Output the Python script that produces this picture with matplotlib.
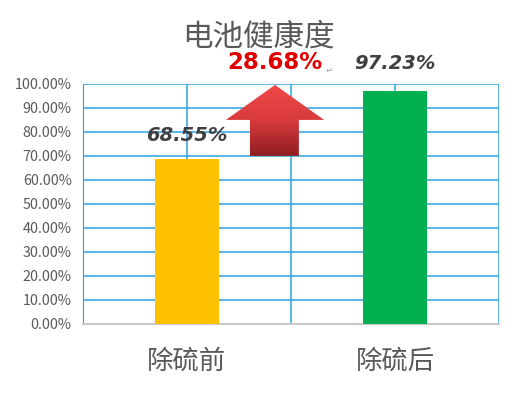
import numpy as np
import matplotlib
matplotlib.use("Agg")
import matplotlib.pyplot as plt
from matplotlib.patches import Polygon
from matplotlib.ticker import FuncFormatter
from matplotlib.colors import LinearSegmentedColormap

plt.rcParams['font.family'] = ['Noto Sans CJK SC', 'DejaVu Sans']

title = "电池健康度"
categories = ["除硫前", "除硫后"]
values = [68.55, 97.23]
bar_colors = ["#FFC000", "#00B050"]
increase_label = "28.68%"
yticks = [0, 10, 20, 30, 40, 50, 60, 70, 80, 90, 100]

fig = plt.figure(figsize=(5.21, 3.94), dpi=100)
ax = fig.add_axes([0.159, 0.178, 0.799, 0.609])

x = np.arange(len(categories))
ax.bar(x, values, width=0.31, color=bar_colors, zorder=3)

ax.set_xlim(-0.5, 1.5)
ax.set_ylim(0, 100)
ax.set_yticks(yticks)
ax.yaxis.set_major_formatter(FuncFormatter(lambda v, p: f"{v:.2f}%"))
ax.set_xticks(x)
ax.set_xticklabels(categories, fontsize=19, color="#595959")
ax.tick_params(axis='x', length=0, pad=17)
ax.tick_params(axis='y', length=0, labelsize=10.3, labelcolor="#595959", pad=8)

grid_c = "#29A3E0"
for yv in yticks[1:]:
    ax.axhline(yv, color=grid_c, lw=1.1, zorder=1)
for xv in [-0.5, 0, 0.5, 1, 1.5]:
    ax.axvline(xv, color=grid_c, lw=1.1, zorder=1)
for s in ['top', 'right']:
    ax.spines[s].set_visible(False)
ax.spines['left'].set_color(grid_c)
ax.spines['bottom'].set_color("#C8C8C8")
ax.spines['bottom'].set_linewidth(1.5)

# value labels
ax.text(x[0], values[0] + 6, f"{values[0]:.2f}%", ha='center', va='bottom',
        fontsize=14, fontweight='bold', style='italic', color="#404040",
        family=['DejaVu Sans'])
ax.text(x[1], values[1] + 7.5, f"{values[1]:.2f}%", ha='center', va='bottom',
        fontsize=14, fontweight='bold', style='italic', color="#404040",
        family=['DejaVu Sans'], clip_on=False)

# gradient arrow
ax_x0, ax_x1 = 0.1875, 0.659
sx0, sx1 = 0.303, 0.538
tip_y, head_y, base_y = 99.6, 85.0, 70.0
tipx = (ax_x0 + ax_x1) / 2
verts = [(sx0, base_y), (sx0, head_y), (ax_x0, head_y), (tipx, tip_y),
         (ax_x1, head_y), (sx1, head_y), (sx1, base_y)]
poly = Polygon(verts, closed=True, facecolor='none', edgecolor='none', zorder=4)
ax.add_patch(poly)
grad = np.linspace(0, 1, 256).reshape(-1, 1)
cmap = LinearSegmentedColormap.from_list("rg", ["#8E1E22", "#D83A3C", "#F24A4A"])
im = ax.imshow(grad, cmap=cmap, aspect='auto', origin='lower',
               extent=[ax_x0, ax_x1, base_y, tip_y], zorder=4)
im.set_clip_path(poly)
ax.set_xlim(-0.5, 1.5)
ax.set_ylim(0, 100)

fig.text(0.495, 0.907, title, ha='center', va='center', fontsize=22, color="#595959")
ax.text(tipx, 104, increase_label, ha='center', va='bottom', fontsize=16.5,
        fontweight='bold', color="#E00000", family=['DejaVu Sans'], clip_on=False)
ax.text(tipx + 0.245, 104, "↵", ha='left', va='bottom', fontsize=6,
        color="#A0A0A0", family=['DejaVu Sans'], clip_on=False)

fig.savefig("out.png", dpi=100)
